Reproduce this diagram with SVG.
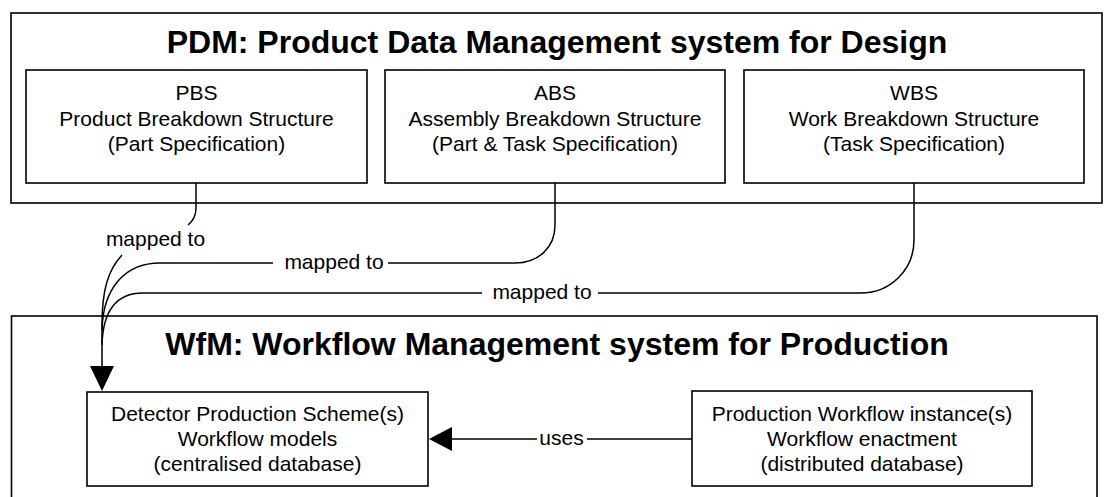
<svg xmlns="http://www.w3.org/2000/svg" width="1107" height="497" viewBox="0 0 1107 497">
<style>
.box{fill:#fff;stroke:#000;stroke-width:1.6}
.title{font-family:"Liberation Sans",Arial,sans-serif;font-size:32px;font-weight:bold;text-anchor:middle;fill:#000}
.t{font-family:"Liberation Sans",Arial,sans-serif;font-size:21px;text-anchor:middle;fill:#000}
.lbl{font-family:"Liberation Sans",Arial,sans-serif;font-size:21px;text-anchor:middle;fill:#000}
.c{fill:none;stroke:#000;stroke-width:1.5}
</style>
<rect width="1107" height="497" fill="#fff"/>
<g id="pdm">
<rect class="box" x="11" y="13" width="1091" height="190"/>
<text class="title" x="557" y="53">PDM: Product Data Management system for Design</text>
</g>
<g id="wfm">
<rect class="box" x="11.5" y="316" width="1085.5" height="200"/>
<text class="title" x="557" y="355">WfM: Workflow Management system for Production</text>
</g>
<g id="pbs">
<rect class="box" x="26" y="70" width="341" height="113"/>
<text class="t" x="196.5" y="100">PBS</text>
<text class="t" x="196.5" y="126">Product Breakdown Structure</text>
<text class="t" x="196.5" y="151">(Part Specification)</text>
</g>
<g id="abs">
<rect class="box" x="385" y="70" width="340" height="113"/>
<text class="t" x="555" y="100">ABS</text>
<text class="t" x="555" y="126">Assembly Breakdown Structure</text>
<text class="t" x="555" y="151">(Part &amp; Task Specification)</text>
</g>
<g id="wbs">
<rect class="box" x="744" y="70" width="340" height="113"/>
<text class="t" x="914" y="100">WBS</text>
<text class="t" x="914" y="126">Work Breakdown Structure</text>
<text class="t" x="914" y="151">(Task Specification)</text>
</g>
<g id="dps">
<rect class="box" x="87" y="392" width="341" height="94"/>
<text class="t" x="257.5" y="421">Detector Production Scheme(s)</text>
<text class="t" x="257.5" y="446">Workflow models</text>
<text class="t" x="257.5" y="471">(centralised database)</text>
</g>
<g id="pwi">
<rect class="box" x="692" y="391" width="340" height="95"/>
<text class="t" x="862" y="421">Production Workflow instance(s)</text>
<text class="t" x="862" y="446">Workflow enactment</text>
<text class="t" x="862" y="471">(distributed database)</text>
</g>
<g id="connectors">
<path class="c" d="M196,183 L196,208 C196,216 193,221 188,225"/>
<path class="c" d="M122,255 C108,270 102,290 102,325 L102,368"/>
<text class="lbl" x="155.5" y="246">mapped to</text>
<path class="c" d="M555,183 V225 C555,248 538,263 515,263 H388"/>
<path class="c" d="M273,263 H160 C125,263 103,288 102,330"/>
<text class="lbl" x="334" y="269">mapped to</text>
<path class="c" d="M914,183 V240 C914,270 890,293 861,293 H598"/>
<path class="c" d="M482,293 H143 C118,293 103,308 102,345"/>
<text class="lbl" x="542" y="299">mapped to</text>
<polygon points="90,366 114,366 102,391" fill="#000"/>
<path class="c" d="M692,439 H587"/>
<path class="c" d="M537,439 H450"/>
<text class="lbl" x="561.5" y="445">uses</text>
<polygon points="452,427 452,451 429,439" fill="#000"/>
</g>
</svg>
